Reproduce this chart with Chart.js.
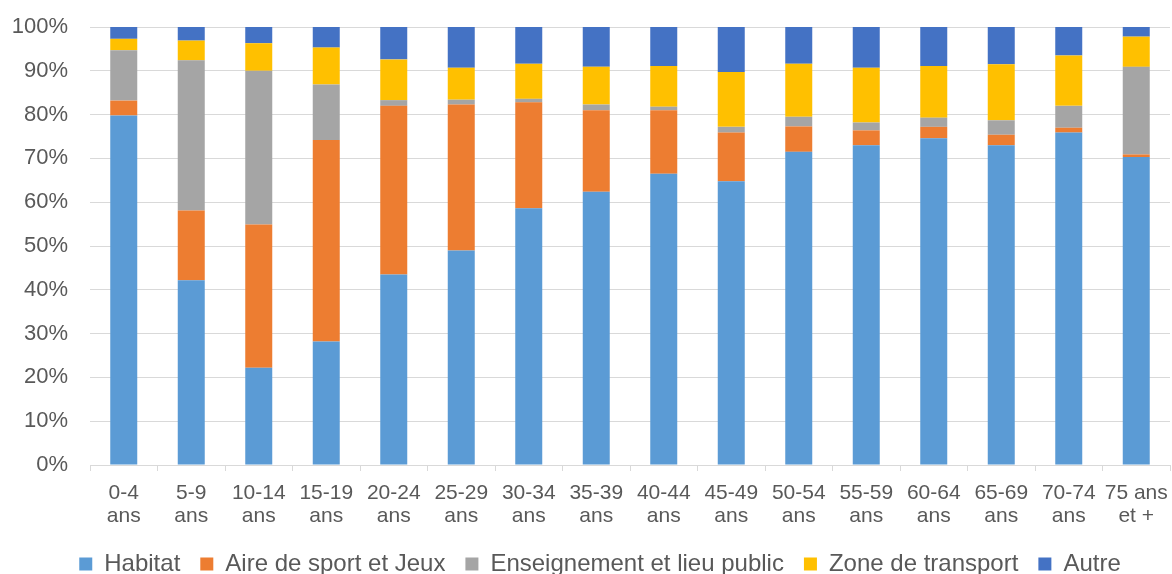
<!DOCTYPE html>
<html>
<head>
<meta charset="utf-8">
<script src="https://cdn.jsdelivr.net/npm/chart.js@4.4.1/dist/chart.umd.min.js"></script>
<style>
  html, body { margin: 0; padding: 0; background: #fff; overflow: hidden; }
  #wrap { width: 1172px; height: 586px; }
</style>
</head>
<body>
<div id="wrap"><canvas id="lieuChart"></canvas></div>
<script>
const ageGroups = [
    ['0-4', 'ans'], ['5-9', 'ans'], ['10-14', 'ans'], ['15-19', 'ans'],
    ['20-24', 'ans'], ['25-29', 'ans'], ['30-34', 'ans'], ['35-39', 'ans'],
    ['40-44', 'ans'], ['45-49', 'ans'], ['50-54', 'ans'], ['55-59', 'ans'],
    ['60-64', 'ans'], ['65-69', 'ans'], ['70-74', 'ans'], ['75 ans', 'et +']
];

// parts en %
const habitat      = [79.8, 42.2, 22.2, 28.2, 43.5, 49.0, 58.6, 62.4, 66.5, 64.8, 71.5, 73.0, 74.6, 73.0, 75.9, 70.3];
const aireSport    = [3.4, 15.9, 32.7, 46.0, 38.5, 33.3, 24.2, 18.6, 14.5, 11.1, 5.8, 3.4, 2.6, 2.4, 1.1, 0.6];
const enseignement = [11.5, 34.3, 35.1, 12.7, 1.3, 1.1, 0.8, 1.3, 0.8, 1.3, 2.2, 1.8, 2.1, 3.3, 5.0, 20.0];
const transport    = [2.6, 4.5, 6.3, 8.4, 9.3, 7.3, 8.0, 8.6, 9.3, 12.5, 12.1, 12.5, 11.8, 12.8, 11.5, 6.9];
const autre        = [2.7, 3.1, 3.7, 4.7, 7.4, 9.3, 8.4, 9.1, 8.9, 10.3, 8.4, 9.3, 8.9, 8.5, 6.5, 2.2];

const yTicks = [0, 10, 20, 30, 40, 50, 60, 70, 80, 90, 100];

const FONT = '"Liberation Sans", Arial, sans-serif';
const GRID = '#d9d9d9';
const TEXT = '#595959';

// la légende d'Excel est un peu décalée vers la droite
const legendShift = {
    id: 'legendShift',
    afterLayout(chart) {
        chart.legend.left += 15;
        chart.legend.right += 15;
    }
};

document.addEventListener("DOMContentLoaded", () => {
    const ctx = document.getElementById('lieuChart').getContext('2d');

    new Chart(ctx, {
        type: 'bar',
        data: {
            labels: ageGroups,
            datasets: [
                { label: 'Habitat', data: habitat, backgroundColor: '#5B9BD5' },
                { label: 'Aire de sport et Jeux', data: aireSport, backgroundColor: '#ED7D31' },
                { label: 'Enseignement et lieu public', data: enseignement, backgroundColor: '#A5A5A5' },
                { label: 'Zone de transport', data: transport, backgroundColor: '#FFC000' },
                { label: 'Autre', data: autre, backgroundColor: '#4472C4' }
            ]
        },
        plugins: [legendShift],
        options: {
            responsive: true,
            maintainAspectRatio: false,
            animation: false,
            categoryPercentage: 1,
            barPercentage: 0.4,
            layout: { padding: { top: 27, right: 2, left: 0, bottom: 0 } },
            scales: {
                x: {
                    stacked: true,
                    grid: {
                        offset: true,
                        drawOnChartArea: false,
                        color: GRID,
                        tickLength: 6
                    },
                    border: { color: GRID },
                    ticks: {
                        color: TEXT,
                        font: { family: FONT, size: 21, lineHeight: 1.1 },
                        padding: 11,
                        maxRotation: 0,
                        autoSkip: false
                    },
                    afterFit: (scale) => {
                        scale.height = 67;
                        scale.paddingLeft = 0;
                        scale.paddingRight = 0;
                    }
                },
                y: {
                    stacked: true,
                    min: 0,
                    max: 100,
                    afterBuildTicks: (scale) => {
                        scale.ticks = yTicks.map(v => ({ value: v }));
                    },
                    grid: { color: GRID, drawTicks: false },
                    border: { display: false },
                    ticks: {
                        color: TEXT,
                        font: { family: FONT, size: 22 },
                        padding: 22,
                        callback: (v) => v + '%'
                    },
                    afterFit: (scale) => {
                        scale.width = 90;
                        scale.paddingTop = 0;
                        scale.paddingBottom = 0;
                    }
                }
            },
            plugins: {
                legend: {
                    position: 'bottom',
                    labels: {
                        color: TEXT,
                        font: { family: FONT, size: 24 },
                        boxWidth: 13,
                        boxHeight: 13,
                        padding: 20
                    }
                },
                tooltip: { enabled: false }
            }
        }
    });
});
</script>
</body>
</html>
